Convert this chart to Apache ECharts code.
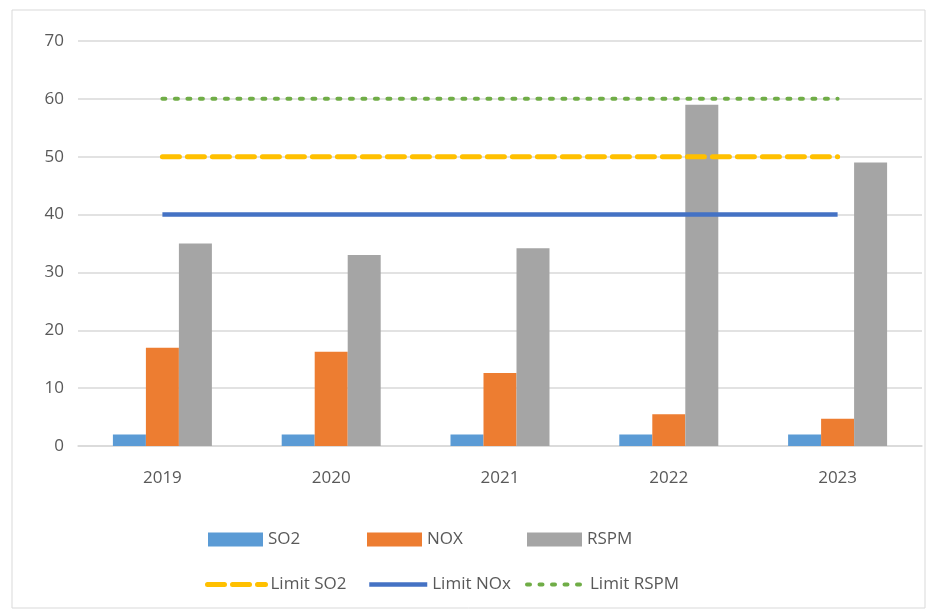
<!DOCTYPE html>
<html>
<head>
<meta charset="utf-8">
<script src="https://cdn.jsdelivr.net/npm/echarts@6/dist/echarts.min.js"></script>
<style>
  html, body { margin: 0; padding: 0; background: #fff; }
  #chart { width: 937px; height: 612px; }
</style>
</head>
<body>
<div id="chart"></div>
<script>
    var years = ['2019', '2020', '2021', '2022', '2023'];
    var so2 = [2, 2, 2, 2, 2];
    var nox = [17, 16.3, 12.6, 5.5, 4.7];
    var rspm = [35, 33, 34.2, 59, 49];
    var limitSo2 = [50, 50, 50, 50, 50];
    var limitNox = [40, 40, 40, 40, 40];
    var limitRspm = [60, 60, 60, 60, 60];

    var myChart = echarts.init(document.getElementById('chart'));

    var legendText = { color: '#595959', fontSize: 17, fontFamily: 'Open Sans' };

    // one legend per item so the columns line up like the original
    function barLegend(name, left) {
        return {
            data: [name], left: left, top: 526,
            icon: 'rect',
            itemWidth: 55, itemHeight: 14, itemGap: 0,
            textStyle: legendText
        };
    }
    function lineLegend(name, left, lw) {
        return {
            data: [name], left: left, top: 571,
            itemWidth: 58, itemHeight: 14, itemGap: 0,
            itemStyle: { opacity: 0 },
            lineStyle: { width: lw },
            textStyle: legendText
        };
    }

    var option = {
        animation: false,
        graphic: [{
            type: 'rect',
            shape: { x: 12, y: 10, width: 913, height: 598 },
            style: { fill: 'none', stroke: '#d9d9d9', lineWidth: 1 }
        }],
        grid: { left: 78, right: 15, top: 41, bottom: 166 },
        legend: [
            barLegend('SO2', 203),
            barLegend('NOX', 362),
            barLegend('RSPM', 522),
            lineLegend('Limit SO2', 200, 5),
            lineLegend('Limit NOx', 362, 4.5),
            lineLegend('Limit RSPM', 520, 4)
        ],
        xAxis: {
            type: 'category',
            data: years,
            axisLine: { lineStyle: { color: '#d9d9d9', width: 1.5 } },
            axisTick: { show: false },
            axisLabel: { color: '#595959', fontSize: 17, fontFamily: 'Open Sans', margin: 24 }
        },
        yAxis: {
            type: 'value',
            min: 0, max: 70, interval: 10,
            axisLine: { show: false },
            axisTick: { show: false },
            splitLine: { lineStyle: { color: '#d9d9d9', width: 1.5 } },
            axisLabel: { color: '#595959', fontSize: 17, fontFamily: 'Open Sans', margin: 14 }
        },
        series: [
            { name: 'SO2', type: 'bar', data: so2, barWidth: 33, barGap: '0%', itemStyle: { color: '#5B9BD5' } },
            { name: 'NOX', type: 'bar', data: nox, barWidth: 33, itemStyle: { color: '#ED7D31' } },
            { name: 'RSPM', type: 'bar', data: rspm, barWidth: 33, itemStyle: { color: '#A5A5A5' } },
            {
                name: 'Limit SO2', type: 'line', data: limitSo2, symbol: 'none',
                lineStyle: { color: '#FFC000', width: 5, type: [17, 8], cap: 'round' },
                itemStyle: { color: '#FFC000' }
            },
            {
                name: 'Limit NOx', type: 'line', data: limitNox, symbol: 'none',
                lineStyle: { color: '#4472C4', width: 4.5, type: 'solid' },
                itemStyle: { color: '#4472C4' }
            },
            {
                name: 'Limit RSPM', type: 'line', data: limitRspm, symbol: 'none',
                lineStyle: { color: '#70AD47', width: 4, type: [3, 9.5], cap: 'round' },
                itemStyle: { color: '#70AD47' }
            }
        ]
    };

    myChart.setOption(option);
</script>
</body>
</html>
